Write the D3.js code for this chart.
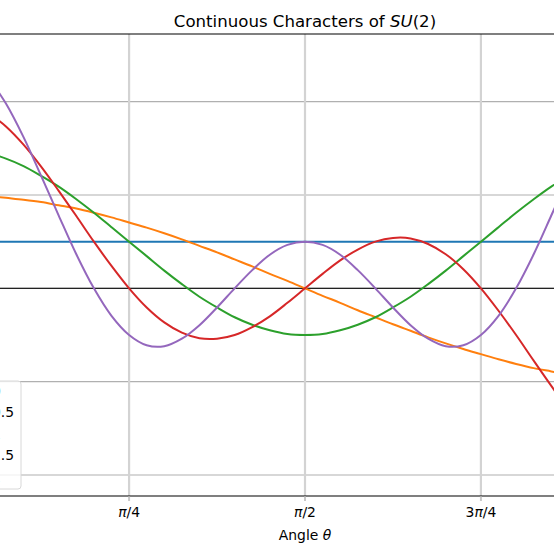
<!DOCTYPE html>
<html>
<head>
  <meta charset="utf-8">
  <title>Continuous Characters of SU(2)</title>
  <script src="https://cdn.jsdelivr.net/npm/d3@7"></script>
  <style>
    body { margin: 0; background: #fff; }
    svg { display: block; font-family: "DejaVu Sans", sans-serif; }
    .tick-label { font-size: 13.9px; fill: #000; }
  </style>
</head>
<body>
<script>
  // sample angles, in steps of pi/40 (k = 2 .. 35)
  const steps = d3.range(2, 36);
  const thetas = steps.map(k => k * Math.PI / 40);

  // character values, one array per spin
  const chi0 = steps.map(() => 1);
  const chi05 = [1.98, 1.94, 1.90, 1.85, 1.78, 1.71, 1.62, 1.52, 1.41, 1.30, 1.18, 1.05,
                 0.91, 0.77, 0.62, 0.47, 0.31, 0.16, 0.00, -0.16, -0.31, -0.47, -0.62,
                 -0.77, -0.91, -1.05, -1.18, -1.30, -1.41, -1.52, -1.62, -1.71, -1.78, -1.85];
  const chi1 = [2.90, 2.78, 2.62, 2.41, 2.18, 1.91, 1.62, 1.31, 1.00, 0.69, 0.38, 0.09,
                -0.18, -0.41, -0.62, -0.78, -0.90, -0.98, -1.00, -0.98, -0.90, -0.78, -0.62,
                -0.41, -0.18, 0.09, 0.38, 0.69, 1.00, 1.31, 1.62, 1.91, 2.18, 2.41];
  const chi15 = [3.76, 3.47, 3.08, 2.61, 2.09, 1.55, 1.00, 0.48, 0.00, -0.41, -0.73, -0.95,
                 -1.07, -1.08, -1.00, -0.83, -0.60, -0.31, 0.00, 0.31, 0.60, 0.83, 1.00,
                 1.08, 1.07, 0.95, 0.73, 0.41, 0.00, -0.48, -1.00, -1.55, -2.09, -2.61];
  const chi2 = [4.52, 3.96, 3.24, 2.41, 1.56, 0.73, 0.00, -0.59, -1.00, -1.22, -1.24, -1.08,
                -0.79, -0.41, 0.00, 0.39, 0.72, 0.93, 1.00, 0.93, 0.72, 0.39, 0.00,
                -0.41, -0.79, -1.08, -1.24, -1.22, -1.00, -0.59, 0.00, 0.73, 1.56, 2.41];

  const spins = ["0", "0.5", "1", "1.5", "2"];
  const seriesValues = [chi0, chi05, chi1, chi15, chi2];
  const colors = ["#1f77b4", "#ff7f0e", "#2ca02c", "#d62728", "#9467bd"];

  const xTickValues = [Math.PI / 4, Math.PI / 2, 3 * Math.PI / 4];
  const xTickLabels = ["π/4", "π/2", "3π/4"];
  const yGridValues = [-4, -2, 0, 2, 4];

  const W = 554, H = 554;
  // axes box (extends past the window on both sides)
  const plot = { left: -82, right: 692, top: 34, bottom: 496 };

  const x = d3.scaleLinear()
    .domain([-0.157, Math.PI + 0.157])
    .range([plot.left, plot.right]);
  const y = d3.scaleLinear()
    .domain([-4.45, 5.45])
    .range([plot.bottom, plot.top]);

  const svg = d3.select("body").append("svg")
    .attr("width", W)
    .attr("height", H);

  svg.append("defs").append("clipPath")
    .attr("id", "plot-clip")
    .append("rect")
    .attr("x", plot.left).attr("y", plot.top)
    .attr("width", plot.right - plot.left)
    .attr("height", plot.bottom - plot.top);

  // grid
  const grid = svg.append("g").attr("id", "grid");
  grid.selectAll("line.hgrid")
    .data(yGridValues)
    .enter().append("line")
    .attr("class", "hgrid")
    .attr("x1", plot.left).attr("x2", plot.right)
    .attr("y1", d => y(d)).attr("y2", d => y(d))
    .attr("stroke", "#b0b0b0")
    .attr("stroke-width", 1.1);
  grid.selectAll("line.vgrid")
    .data(xTickValues)
    .enter().append("line")
    .attr("class", "vgrid")
    .attr("x1", d => x(d)).attr("x2", d => x(d))
    .attr("y1", plot.top).attr("y2", plot.bottom)
    .attr("stroke", "#d3d3d3")
    .attr("stroke-width", 2.2);

  // zero line
  svg.append("line")
    .attr("x1", plot.left).attr("x2", plot.right)
    .attr("y1", y(0)).attr("y2", y(0))
    .attr("stroke", "#222")
    .attr("stroke-width", 1.1);

  // character curves
  const line = d3.line()
    .x((d, i) => x(thetas[i]))
    .y(d => y(d))
    .curve(d3.curveCatmullRom);

  svg.append("g")
    .attr("id", "lines")
    .attr("clip-path", "url(#plot-clip)")
    .selectAll("path")
    .data(seriesValues)
    .enter().append("path")
    .attr("d", d => line(d))
    .attr("fill", "none")
    .attr("stroke", (d, i) => colors[i])
    .attr("stroke-width", 2);

  // spines
  svg.append("line")
    .attr("x1", plot.left).attr("x2", plot.right)
    .attr("y1", plot.top).attr("y2", plot.top)
    .attr("stroke", "#000").attr("stroke-width", 1.1);
  svg.append("line")
    .attr("x1", plot.left).attr("x2", plot.right)
    .attr("y1", plot.bottom).attr("y2", plot.bottom)
    .attr("stroke", "#000").attr("stroke-width", 1.1);

  // x axis ticks and labels
  const xAxis = svg.append("g").attr("id", "x-axis");
  xAxis.selectAll("line")
    .data(xTickValues)
    .enter().append("line")
    .attr("x1", d => x(d)).attr("x2", d => x(d))
    .attr("y1", plot.bottom + 0.5).attr("y2", plot.bottom + 5)
    .attr("stroke", "#c8c8c8")
    .attr("stroke-width", 2);
  xAxis.selectAll("text")
    .data(xTickValues)
    .enter().append("text")
    .attr("class", "tick-label")
    .attr("x", d => x(d))
    .attr("y", plot.bottom + 21)
    .attr("text-anchor", "middle")
    .each(function(d, i) {
      const parts = xTickLabels[i].split("π");
      const t = d3.select(this);
      if (parts[0]) t.append("tspan").text(parts[0]);
      t.append("tspan").attr("font-style", "italic").text("π");
      t.append("tspan").text(parts[1]);
    });

  const xLabel = svg.append("text")
    .attr("x", x(Math.PI / 2))
    .attr("y", 540)
    .attr("text-anchor", "middle")
    .attr("font-size", "13.9px");
  xLabel.append("tspan").text("Angle ");
  xLabel.append("tspan").attr("font-style", "italic").text("θ");

  // title
  const title = svg.append("text")
    .attr("x", x(Math.PI / 2))
    .attr("y", 27)
    .attr("text-anchor", "middle")
    .attr("font-size", "16.6px");
  title.append("tspan").text("Continuous Characters of ");
  title.append("tspan").attr("font-style", "italic").text("SU");
  title.append("tspan").text("(2)");

  // legend (mostly off the left edge)
  const legend = svg.append("g").attr("id", "legend");
  legend.append("rect")
    .attr("x", -120).attr("y", 381)
    .attr("width", 141).attr("height", 108)
    .attr("rx", 3)
    .attr("fill", "#fff").attr("fill-opacity", 0.8)
    .attr("stroke", "#d8d8d8").attr("stroke-width", 1);

  const entries = legend.append("g");
  entries.selectAll("line")
    .data(spins)
    .enter().append("line")
    .attr("x1", -48).attr("x2", -20)
    .attr("y1", (d, i) => 391 + i * 21.5).attr("y2", (d, i) => 391 + i * 21.5)
    .attr("stroke", (d, i) => colors[i])
    .attr("stroke-width", 2);
  const labels = entries.selectAll("text")
    .data(spins)
    .enter().append("text")
    .attr("x", 0)
    .attr("y", (d, i) => 395.5 + i * 21.5)
    .attr("font-size", "13.9px")
    .text(d => "j = " + d);
  // line the labels up so the ".5" ends sit at x = 14
  const widest = labels.filter(d => d === "0.5").node().getComputedTextLength();
  labels.attr("x", 14 - widest);
  entries.selectAll("line")
    .attr("x1", 14 - widest - 36)
    .attr("x2", 14 - widest - 8);
</script>
</body>
</html>
